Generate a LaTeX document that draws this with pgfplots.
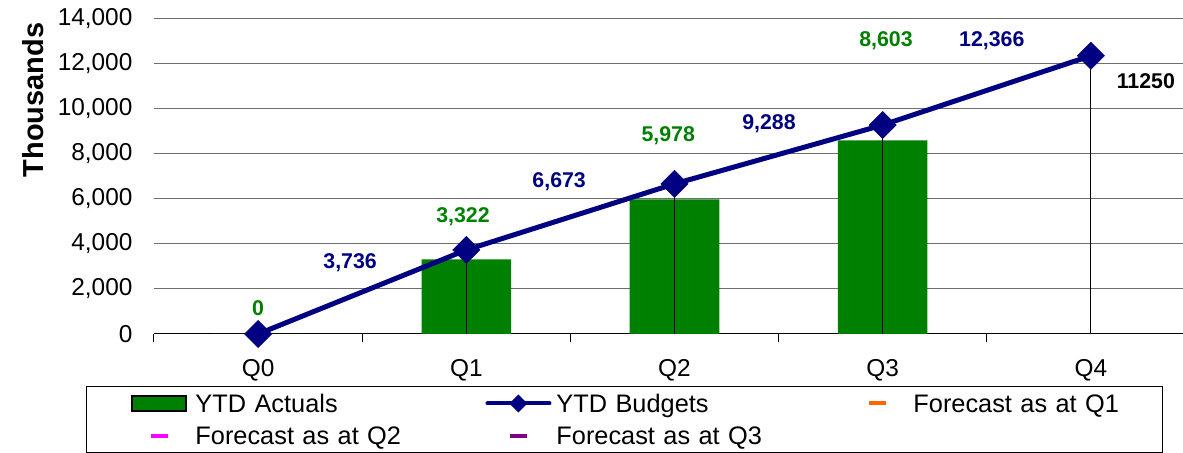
\documentclass[border=0pt]{standalone}
\usepackage{fontspec}
\setmainfont{Liberation Sans}
\usepackage{pgfplots}
\pgfplotsset{compat=1.18}
\definecolor{xlgreen}{RGB}{0,128,0}
\definecolor{xlnavy}{RGB}{0,0,128}
\definecolor{xlorange}{RGB}{255,102,0}
\definecolor{xlmagenta}{RGB}{255,0,255}
\definecolor{xlpurple}{RGB}{128,0,128}
\definecolor{gridgray}{RGB}{110,110,110}
\begin{document}
\begin{tikzpicture}
\begin{axis}[
  scale only axis,
  width=780.75pt, height=236.25pt,
  at={(0,0)}, anchor=south west,
  xmin=-0.5, xmax=4.5, ymin=0, ymax=14000,
  clip=false,
  scaled y ticks=false,
  axis x line*=bottom, axis y line*=left,
  x axis line style={draw=black, line width=0.75pt, -},
  y axis line style={draw=none},
  xtick={0,1,2,3,4},
  xticklabels={Q0,Q1,Q2,Q3,Q4},
  minor xtick={-0.5,0.5,1.5,2.5,3.5},
  tick align=outside,
  major tick length=0pt,
  minor tick length=6pt,
  tick style={draw=black, line width=0.75pt},
  ytick={0,2000,4000,6000,8000,10000,12000,14000},
  yticklabels={0,{2,000},{4,000},{6,000},{8,000},{10,000},{12,000},{14,000}},
  ytick style={draw=none},
  ymajorgrids,
  major grid style={draw=gridgray, line width=0.75pt},
  tick label style={font=\fontsize{18.3}{21}\selectfont},
  xticklabel style={anchor=center, yshift=-27pt},
  yticklabel style={anchor=east, inner sep=0pt, xshift=-16pt},
  legend columns=3,
  legend cell align=left,
  legend style={
    at={(axis description cs:0,0)}, anchor=north west, xshift=-51pt, yshift=-39pt,
    draw=black, line width=0.75pt,
    inner xsep=31.5pt, inner ysep=4.25pt,
    column sep=0pt, row sep=7pt,
    font=\fontsize{19}{22}\selectfont,
    nodes={draw=none, inner sep=0pt, text height=15.3pt, text depth=1.7pt, text width=217.5pt, align=left},
    /tikz/every odd column/.append style={column sep=3.75pt},
    /tikz/column 6/.style={nodes={text width=155.25pt}},
  },
]
% YTD Actuals
\addplot[ybar, bar width=0.43, fill=xlgreen, draw=none,
  legend image code/.code={
    \path[draw=none, fill=none] (0pt,-6pt) rectangle (46.5pt,6pt);
    \fill[xlgreen] (3pt,-5.25pt) rectangle (43.5pt,5.25pt);
    \draw[draw=black, line width=1.5pt] (3pt,-5.25pt) rectangle (43.5pt,5.25pt);
  }] coordinates {(0,0) (1,3322) (2,5978) (3,8603)};
% drop lines
\addplot[ycomb, black, line width=0.75pt, mark=none, forget plot]
  coordinates {(1,3736) (2,6673) (3,9288) (4,12366)};
% YTD Budgets
\addplot[xlnavy, line width=3.75pt, mark=square*, mark size=7.2pt,
  mark options={rotate=45, line width=0.4pt, fill=xlnavy, draw=xlnavy},
  legend image code/.code={
    \path[draw=none, fill=none] (0pt,-6pt) rectangle (46.5pt,6pt);
    \draw[xlnavy, line width=3pt, line cap=round] (0pt,0pt) -- (46.5pt,0pt);
    \fill[xlnavy, draw=none] (23.25pt,6.75pt) -- (30pt,0pt) -- (23.25pt,-6.75pt) -- (16.5pt,0pt) -- cycle;
  }] coordinates {(0,0) (1,3736) (2,6673) (3,9288) (4,12366)};
\addlegendimage{legend image code/.code={
    \path[draw=none, fill=none] (0pt,-6pt) rectangle (46.5pt,6pt);
    \fill[xlorange, draw=none] (16.9pt,-1.5pt) rectangle (29.6pt,1.5pt);}}
\addlegendimage{legend image code/.code={
    \path[draw=none, fill=none] (0pt,-6pt) rectangle (46.5pt,6pt);
    \fill[xlmagenta, draw=none] (16.9pt,-1.5pt) rectangle (29.6pt,1.5pt);}}
\addlegendimage{legend image code/.code={
    \path[draw=none, fill=none] (0pt,-6pt) rectangle (46.5pt,6pt);
    \fill[xlpurple, draw=none] (16.9pt,-1.5pt) rectangle (29.6pt,1.5pt);}}
\legend{YTD Actuals, YTD Budgets, Forecast as at Q1, Forecast as at Q2, Forecast as at Q3}
% data labels
\begin{scope}[every node/.style={font=\bfseries\fontsize{16}{18}\selectfont, inner sep=0pt}]
\node[text=xlgreen] at (axis cs:0,1156) {0};
\node[text=xlgreen] at (axis cs:0.984,5200) {3,322};
\node[text=xlgreen] at (axis cs:1.97,8800) {5,978};
\node[text=xlgreen] at (axis cs:3.016,13022) {8,603};
\node[text=xlnavy] at (axis cs:0.442,3156) {3,736};
\node[text=xlnavy] at (axis cs:1.446,6756) {6,673};
\node[text=xlnavy] at (axis cs:2.454,9333) {9,288};
\node[text=xlnavy] at (axis cs:3.524,13022) {12,366};
\node[text=black] at (axis cs:4.264,11244) {11250};
\end{scope}
\end{axis}
\node[rotate=90, font=\bfseries\fontsize{21.7}{24}\selectfont] at (-90.75pt,175.5pt) {Thousands};
\pgfresetboundingbox
\path[use as bounding box] (-115.5pt,-89.25pt) rectangle (771.75pt,250.5pt);
\end{tikzpicture}
\end{document}
